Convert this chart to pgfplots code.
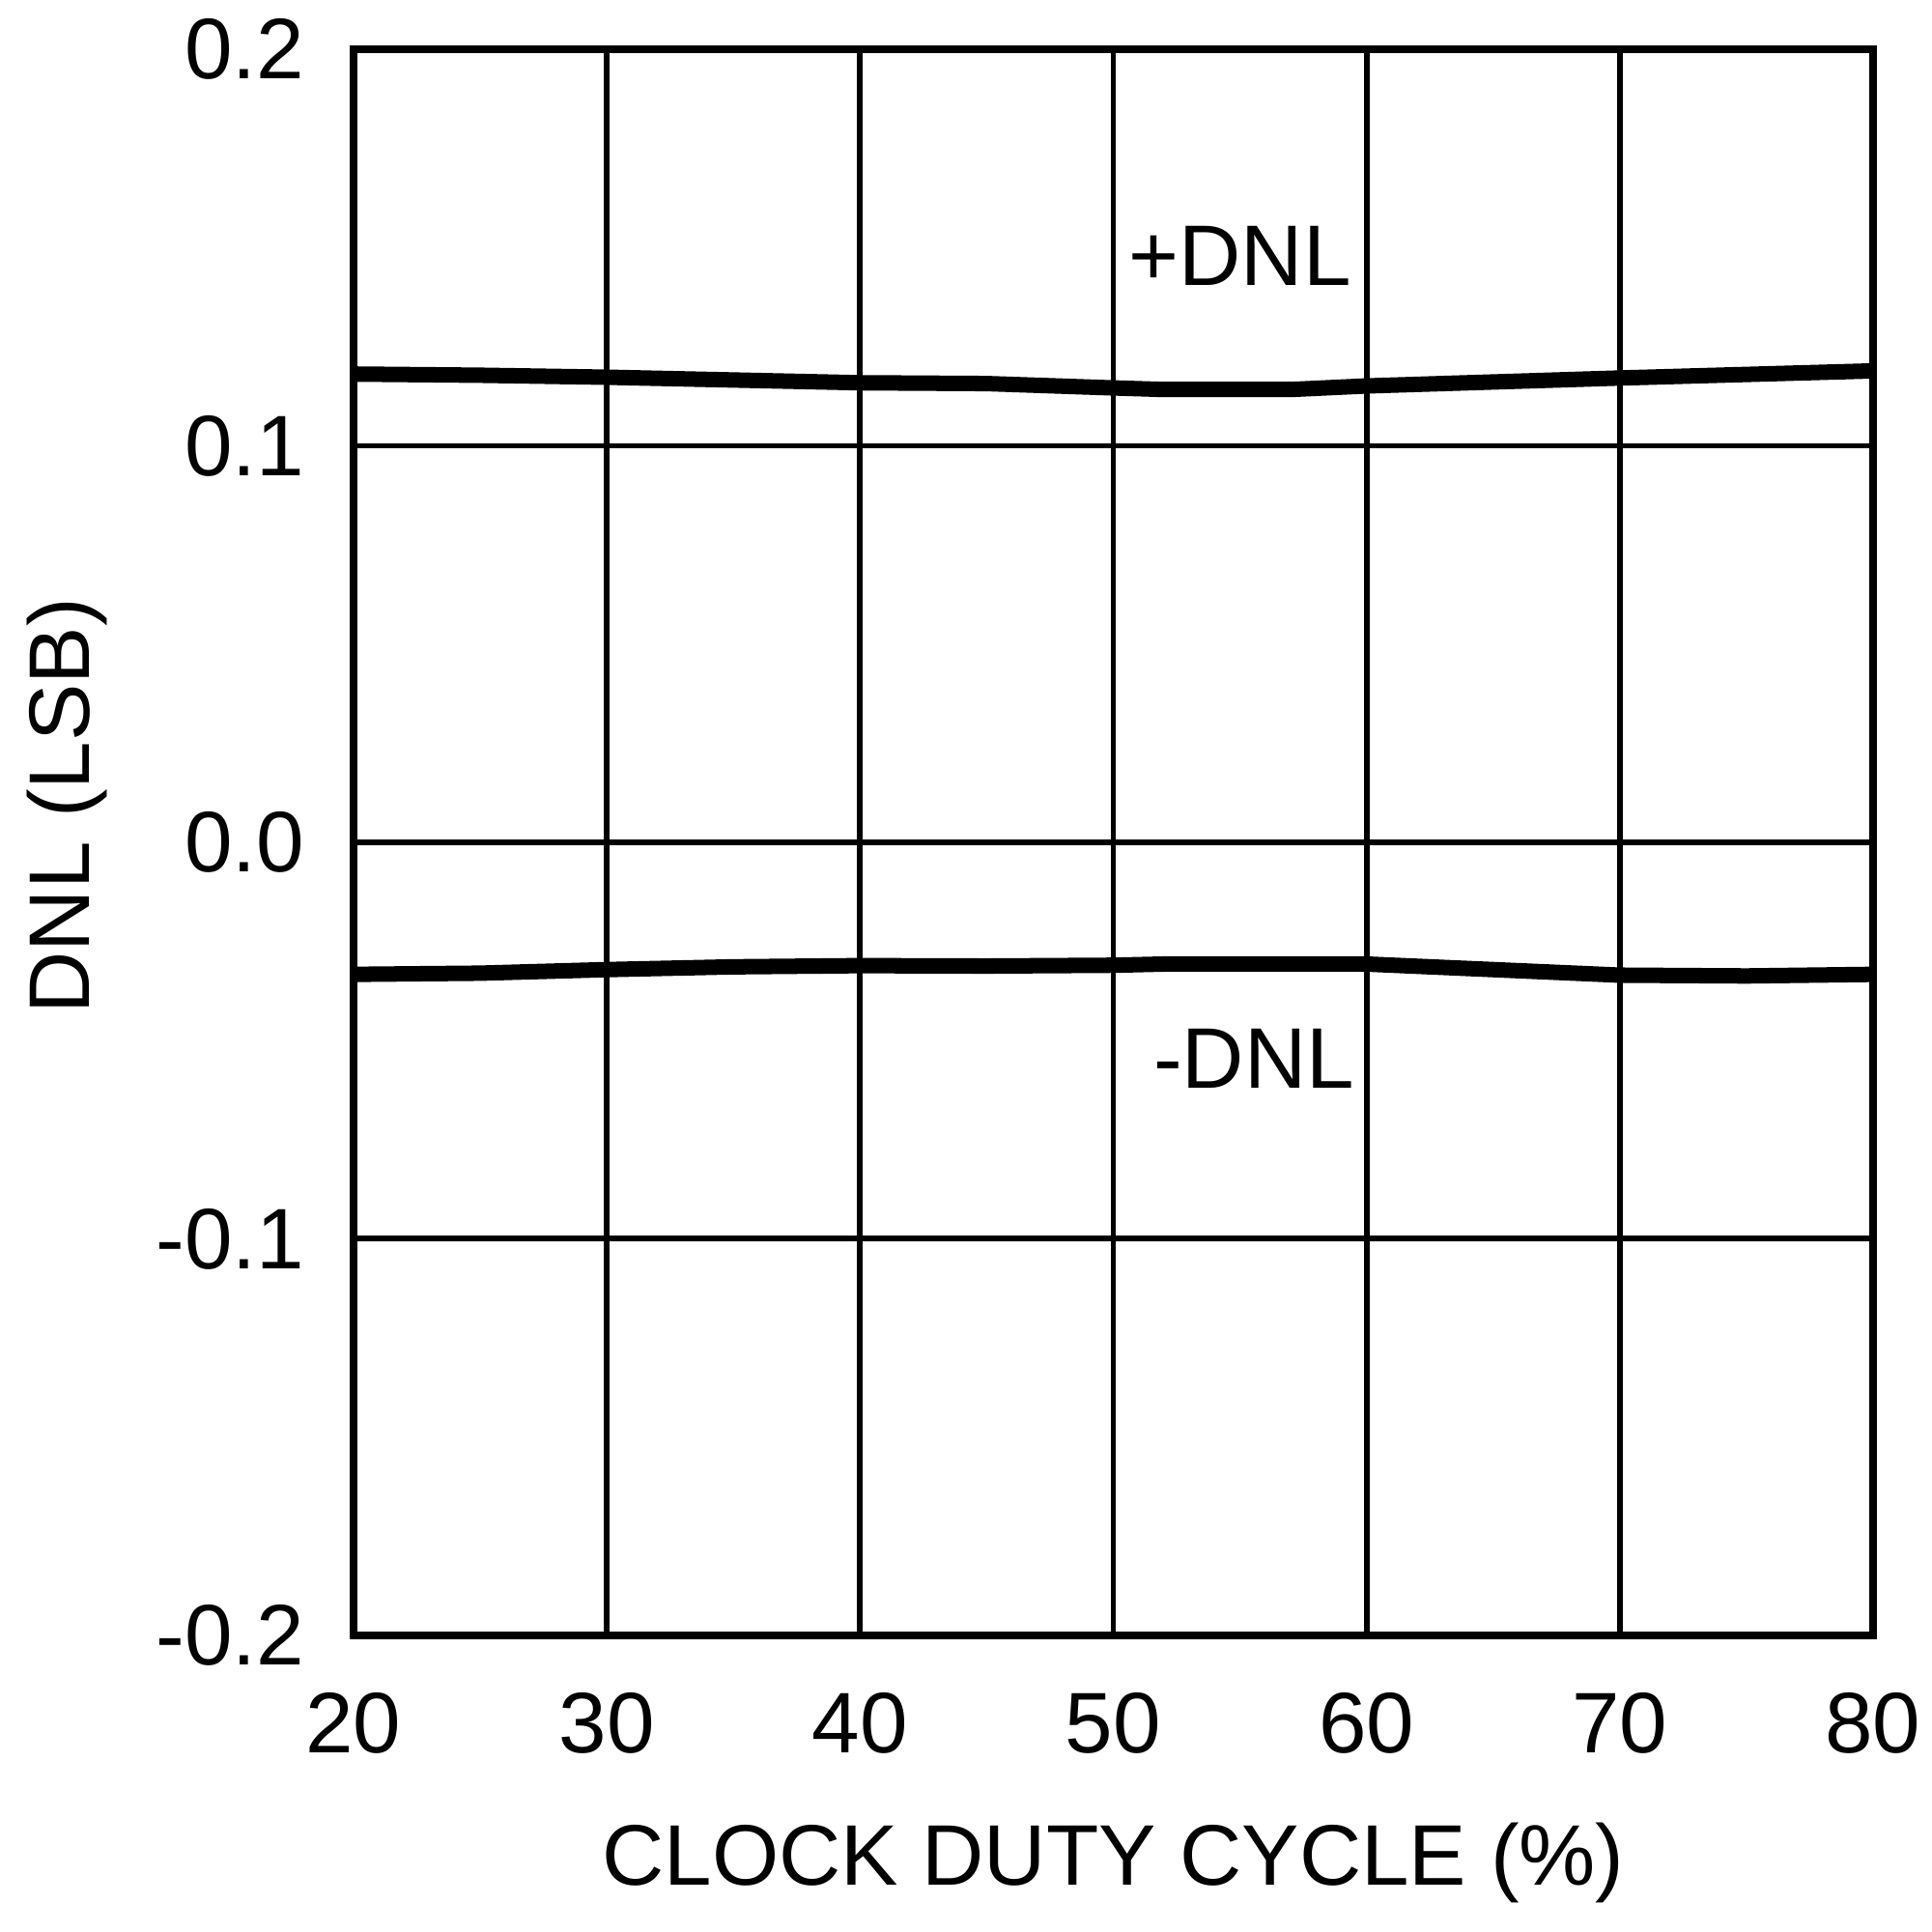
\documentclass[border=0pt]{standalone}
\usepackage{fontspec}
\setmainfont{Liberation Sans}
\usepackage{pgfplots}
\pgfplotsset{compat=1.18}

\begin{document}
\begin{tikzpicture}
\begin{axis}[
    width=6.212cm, height=6.484cm,
    scale only axis,
    xmin=20, xmax=80,
    ymin=-0.2, ymax=0.2,
    xtick={20,30,...,80},
    xticklabels={20,30,40,50,60,70,80},
    ytick={-0.2,-0.1,0,0.1,0.2},
    yticklabels={-0.2,-0.1,0.0,0.1,0.2},
    /pgf/number format/assume math mode=true,
    major tick length=0pt,
    grid=major,
    major grid style={black, line width=0.67pt},
    axis line style={black, line width=0.9pt},
    every tick label/.append style={inner sep=0pt, font=\fontsize{10}{12}\selectfont},
    yticklabel style={anchor=east, xshift=-0.195cm},
    xticklabel style={anchor=north, yshift=-0.229cm},
    xlabel={CLOCK DUTY CYCLE (\%)},
    ylabel={DNL (LSB)},
    xlabel style={at={(axis description cs:0.5,-0.1577)}, anchor=base, inner sep=0pt},
    ylabel style={at={(axis description cs:-0.1736,0.523)}, anchor=base, inner sep=0pt},
    clip=false,
]
% +DNL
\addplot[black, line width=1.8pt, line join=round] coordinates {
    (20,0.1181) (25,0.1178) (30,0.1173) (35,0.1166) (40,0.1159) (45,0.1157)
    (50,0.1146) (52,0.1142) (57,0.1142) (60,0.1151) (65,0.1161) (70,0.1171)
    (75,0.1180) (80,0.1189)
};
% -DNL
\addplot[black, line width=1.8pt, line join=round] coordinates {
    (20,-0.0333) (25,-0.0330) (30,-0.0321) (35,-0.0314) (40,-0.0311) (45,-0.0312)
    (50,-0.0310) (52,-0.0307) (56,-0.0307) (60,-0.0307) (65,-0.0321) (70,-0.0335)
    (75,-0.0337) (80,-0.0333)
};
\node[inner sep=0pt] at (axis cs:55.0,0.148) {+DNL};
\node[inner sep=0pt] at (axis cs:55.55,-0.0546) {-DNL};
% page frame like the reference
\path (axis description cs:-0.2327,-0.187) rectangle (axis description cs:1.0388,1.0311);
\end{axis}
\end{tikzpicture}
\end{document}
